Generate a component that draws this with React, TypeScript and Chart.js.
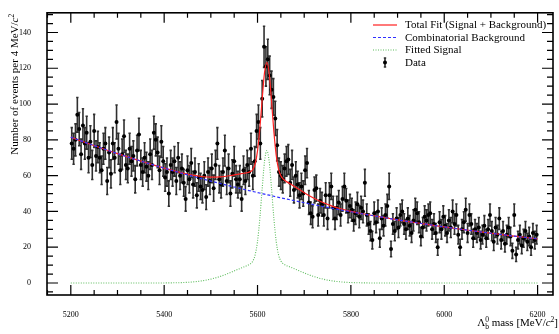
import { useEffect, useRef } from "react";
import { Chart, registerables } from "chart.js";

Chart.register(...registerables);

// Λb0 candidate mass spectrum, 4 MeV/c² bins from 5200 to 6200 MeV/c²
const BIN_LOW = 5200;
const BIN_WIDTH = 4;

const eventCounts: number[] = [
  78, 75, 80, 94, 86, 72, 88, 78, 84, 70,
  79, 66, 85, 71, 76, 70, 63, 75, 78, 57,
  73, 61, 78, 70, 90, 75, 63, 72, 82, 66,
  64, 75, 68, 71, 58, 74, 83, 66, 62, 70,
  65, 60, 72, 66, 84, 80, 73, 63, 79, 68,
  59, 62, 50, 66, 62, 68, 57, 70, 60, 64,
  56, 47, 63, 58, 67, 55, 62, 49, 59, 54,
  52, 60, 48, 62, 57, 64, 53, 66, 78, 58,
  55, 62, 74, 57, 64, 50, 61, 68, 58, 55,
  58, 47, 63, 57, 66, 62, 75, 60, 68, 85,
  90, 78, 103, 132, 121, 125, 116, 108, 104, 92,
  77, 62, 60, 58, 64, 68, 69, 56, 66, 52,
  60, 55, 49, 54, 50, 63, 67, 45, 39, 37,
  52, 53, 38, 46, 44, 38, 49, 36, 49, 54,
  42, 36, 42, 45, 38, 47, 54, 46, 40, 43,
  41, 35, 39, 44, 37, 42, 40, 56, 38, 33,
  29, 24, 39, 34, 40, 25, 36, 32, 38, 43,
  54, 19, 33, 29, 36, 31, 38, 40, 33, 30,
  36, 32, 28, 35, 41, 39, 34, 26, 31, 37,
  35, 38, 39, 30, 33, 28, 20, 34, 30, 37,
  32, 28, 35, 31, 40, 33, 38, 27, 20, 30,
  34, 41, 28, 38, 33, 25, 30, 28, 31, 24,
  27, 32, 25, 30, 38, 29, 23, 31, 27, 36,
  24, 29, 22, 27, 31, 26, 18, 38, 16, 24,
  27, 21, 25, 29, 23, 26, 20, 28, 24, 27,
];
const binCenters = eventCounts.map((_, i) => BIN_LOW + BIN_WIDTH * (i + 0.5));

// Fit curves sampled along the mass axis (denser around the peak)
const fitMass: number[] = [
  5200, 5220, 5240, 5260, 5280, 5300, 5320, 5340, 5360, 5380, 5400, 5420, 5440, 5460, 5480, 5500,
  5520, 5540, 5560, 5570, 5580, 5585, 5590, 5595, 5600, 5605, 5610, 5615, 5620, 5625, 5630, 5635,
  5640, 5645, 5650, 5655, 5660, 5670, 5680, 5700, 5720, 5740, 5760, 5780, 5800, 5820, 5840, 5860,
  5880, 5900, 5920, 5940, 5960, 5980, 6000, 6020, 6040, 6060, 6080, 6100, 6120, 6140, 6160, 6180, 6200,
];
const totalFit: number[] = [
  81.5, 79.58, 77.7, 75.87, 74.08, 72.33, 70.62, 68.95, 67.34, 65.75, 64.23, 62.78, 61.45, 60.33, 59.52, 59.14,
  59.3, 59.93, 60.86, 61.32, 61.77, 62.26, 63.46, 66.65, 73.85, 86.45, 102.85, 117.55, 123.36, 116.97, 101.67, 84.68,
  71.49, 63.7, 59.92, 58.13, 57.05, 55.42, 53.78, 50.49, 47.48, 44.95, 42.94, 41.35, 40.07, 38.98, 37.99, 37.07,
  36.18, 35.33, 34.49, 33.68, 32.89, 32.11, 31.35, 30.61, 29.89, 29.19, 28.5, 27.82, 27.17, 26.53, 25.9, 25.29, 24.69,
];
const backgroundFit: number[] = [
  81.5, 79.58, 77.7, 75.87, 74.08, 72.33, 70.62, 68.95, 67.33, 65.74, 64.19, 62.67, 61.19, 59.75, 58.34, 56.96,
  55.62, 54.3, 53.02, 52.39, 51.77, 51.46, 51.16, 50.85, 50.55, 50.25, 49.95, 49.65, 49.36, 49.07, 48.77, 48.48,
  48.19, 47.9, 47.62, 47.33, 47.05, 46.49, 45.94, 44.86, 43.8, 42.77, 41.76, 40.77, 39.81, 38.87, 37.95, 37.06,
  36.18, 35.33, 34.49, 33.68, 32.89, 32.11, 31.35, 30.61, 29.89, 29.19, 28.5, 27.82, 27.17, 26.53, 25.9, 25.29, 24.69,
];
const signalFit: number[] = [
  0, 0, 0, 0, 0, 0, 0, 0, 0.01, 0.01, 0.04, 0.11, 0.26, 0.58, 1.18, 2.18,
  3.68, 5.63, 7.84, 8.93, 10.0, 10.8, 12.3, 15.8, 23.3, 36.2, 52.9, 67.9, 74.0, 67.9, 52.9, 36.2,
  23.3, 15.8, 12.3, 10.8, 10.0, 8.93, 7.84, 5.63, 3.68, 2.18, 1.18, 0.58, 0.26, 0.11, 0.04, 0.01,
  0, 0, 0, 0, 0, 0, 0, 0, 0, 0, 0, 0, 0, 0, 0, 0, 0,
];

const xMajorTicks = [5200, 5400, 5600, 5800, 6000, 6200];
const yMajorTicks = [0, 20, 40, 60, 80, 100, 120, 140];
const legendLabels = ["Total Fit (Signal + Background)", "Combinatorial Background", "Fitted Signal", "Data"];

const SERIF = '"Liberation Serif", "DejaVu Serif", serif';
const RED = "#ff2020";
const BLUE = "#3030ff";
const GREEN = "#5cbc5c";
const BAR = "#303030";

type Part = { t: string; size: number; italic?: boolean; dy?: number; stack?: boolean };

const font = (p: Part) => `${p.italic ? "italic " : ""}${p.size}px ${SERIF}`;

function partsWidth(ctx: CanvasRenderingContext2D, parts: Part[]) {
  let w = 0;
  for (const p of parts) {
    ctx.font = font(p);
    if (!p.stack) w += ctx.measureText(p.t).width;
  }
  return w;
}

function drawParts(ctx: CanvasRenderingContext2D, parts: Part[], x: number, y: number) {
  let cx = x;
  for (const p of parts) {
    ctx.font = font(p);
    ctx.fillText(p.t, cx, y + (p.dy || 0));
    if (!p.stack) cx += ctx.measureText(p.t).width;
  }
}

// σ = √N error bars beneath the data markers
const errorBarPlugin = {
  id: "errorBars",
  beforeDatasetsDraw(chart: any) {
    const { ctx, chartArea: a, scales } = chart;
    const xs = scales.x;
    const ys = scales.y;
    ctx.save();
    ctx.beginPath();
    ctx.rect(a.left, a.top, a.right - a.left, a.bottom - a.top);
    ctx.clip();
    ctx.strokeStyle = BAR;
    ctx.lineWidth = 1.6;
    ctx.beginPath();
    eventCounts.forEach((n, i) => {
      const px = xs.getPixelForValue(binCenters[i]);
      const err = Math.sqrt(n);
      const yTop = ys.getPixelForValue(n + err);
      const yBot = ys.getPixelForValue(n - err);
      ctx.moveTo(px, yTop);
      ctx.lineTo(px, yBot);
      ctx.moveTo(px - 1.2, yTop);
      ctx.lineTo(px + 1.2, yTop);
      ctx.moveTo(px - 1.2, yBot);
      ctx.lineTo(px + 1.2, yBot);
    });
    ctx.stroke();
    ctx.restore();
  },
};

// Boxed frame with inward ticks, axis titles and the legend box
const decorationsPlugin = {
  id: "decorations",
  afterDraw(chart: any) {
    const { ctx, chartArea: a, scales } = chart;
    const xs = scales.x;
    const ys = scales.y;
    ctx.save();
    ctx.strokeStyle = "#000";
    ctx.lineWidth = 1.6;
    ctx.strokeRect(a.left, a.top, a.right - a.left, a.bottom - a.top);

    ctx.lineWidth = 1.2;
    ctx.beginPath();
    for (let v = 5150; v <= 6250; v += 50) {
      if (v <= xs.min || v >= xs.max) continue;
      const px = xs.getPixelForValue(v);
      const len = xMajorTicks.includes(v) ? 10 : 5;
      ctx.moveTo(px, a.bottom);
      ctx.lineTo(px, a.bottom - len);
      ctx.moveTo(px, a.top);
      ctx.lineTo(px, a.top + len);
    }
    for (let v = -5; v <= 150; v += 5) {
      if (v <= ys.min || v >= ys.max) continue;
      const py = ys.getPixelForValue(v);
      const len = yMajorTicks.includes(v) ? 11 : 6;
      ctx.moveTo(a.left, py);
      ctx.lineTo(a.left + len, py);
      ctx.moveTo(a.right, py);
      ctx.lineTo(a.right - len, py);
    }
    ctx.stroke();

    ctx.fillStyle = "#000";
    ctx.textBaseline = "alphabetic";

    // x-axis title, right-aligned to the end of the axis
    const xTitle: Part[] = [
      { t: "Λ", size: 11 },
      { t: "b", size: 7.5, dy: 2.5, stack: true },
      { t: "0", size: 7.5, dy: -4.5 },
      { t: " mass [MeV/", size: 11 },
      { t: "c", size: 11, italic: true },
      { t: "2", size: 7.5, dy: -4.5 },
      { t: "]", size: 11 },
    ];
    const xw = partsWidth(ctx, xTitle);
    drawParts(ctx, xTitle, 558 - xw, 326);

    // y-axis title, rotated, ending at the top of the frame
    const yTitle: Part[] = [
      { t: "Number of events per 4 MeV/", size: 11 },
      { t: "c", size: 11, italic: true },
      { t: "2", size: 7.5, dy: -4.5 },
    ];
    const yw = partsWidth(ctx, yTitle);
    ctx.save();
    ctx.translate(18, a.top + 1);
    ctx.rotate(-Math.PI / 2);
    drawParts(ctx, yTitle, -yw, 0);
    ctx.restore();

    // legend
    const rowY = [25, 37.5, 50, 62.5];
    const x0 = 373;
    const x1 = 397;
    ctx.font = `11px ${SERIF}`;
    ctx.textBaseline = "middle";
    legendLabels.forEach((label, i) => {
      ctx.fillStyle = "#000";
      ctx.fillText(label, 405, rowY[i] + 0.5);
    });
    ctx.lineWidth = 1.2;
    ctx.strokeStyle = RED;
    ctx.setLineDash([]);
    ctx.beginPath();
    ctx.moveTo(x0, rowY[0]);
    ctx.lineTo(x1, rowY[0]);
    ctx.stroke();
    ctx.strokeStyle = BLUE;
    ctx.setLineDash([3, 2]);
    ctx.beginPath();
    ctx.moveTo(x0, rowY[1]);
    ctx.lineTo(x1, rowY[1]);
    ctx.stroke();
    ctx.strokeStyle = GREEN;
    ctx.setLineDash([1, 1.5]);
    ctx.beginPath();
    ctx.moveTo(x0, rowY[2]);
    ctx.lineTo(x1, rowY[2]);
    ctx.stroke();
    ctx.setLineDash([]);
    const mx = (x0 + x1) / 2;
    ctx.strokeStyle = BAR;
    ctx.lineWidth = 1.6;
    ctx.beginPath();
    ctx.moveTo(mx, rowY[3] - 4.5);
    ctx.lineTo(mx, rowY[3] + 4.5);
    ctx.moveTo(mx - 1.2, rowY[3] - 4.5);
    ctx.lineTo(mx + 1.2, rowY[3] - 4.5);
    ctx.moveTo(mx - 1.2, rowY[3] + 4.5);
    ctx.lineTo(mx + 1.2, rowY[3] + 4.5);
    ctx.stroke();
    ctx.fillStyle = "#000";
    ctx.beginPath();
    ctx.arc(mx, rowY[3], 2, 0, Math.PI * 2);
    ctx.fill();
    ctx.restore();
  },
};

export default function App() {
  const canvasRef = useRef<HTMLCanvasElement | null>(null);

  useEffect(() => {
    document.body.style.margin = "0";
    const canvas = canvasRef.current;
    if (!canvas) return;

    const chart = new Chart(canvas, {
      type: "scatter",
      data: {
        datasets: [
          {
            label: legendLabels[3],
            data: binCenters.map((m, i) => ({ x: m, y: eventCounts[i] })),
            pointRadius: 2,
            pointBackgroundColor: "#000",
            pointBorderWidth: 0,
            showLine: false,
            order: 4,
          },
          {
            type: "line",
            label: legendLabels[0],
            data: fitMass.map((m, i) => ({ x: m, y: totalFit[i] })),
            borderColor: RED,
            borderWidth: 1.2,
            pointRadius: 0,
            cubicInterpolationMode: "monotone",
            fill: false,
            order: 3,
          },
          {
            type: "line",
            label: legendLabels[1],
            data: fitMass.map((m, i) => ({ x: m, y: backgroundFit[i] })),
            borderColor: BLUE,
            borderWidth: 1.2,
            borderDash: [3, 2],
            pointRadius: 0,
            cubicInterpolationMode: "monotone",
            fill: false,
            order: 2,
          },
          {
            type: "line",
            label: legendLabels[2],
            data: fitMass.map((m, i) => ({ x: m, y: signalFit[i] })),
            borderColor: GREEN,
            borderWidth: 1.1,
            borderDash: [1, 1.5],
            pointRadius: 0,
            cubicInterpolationMode: "monotone",
            fill: false,
            order: 1,
          },
        ] as any,
      },
      options: {
        responsive: false,
        animation: false,
        events: [],
        layout: { padding: { top: 4, right: 6, left: 0, bottom: 0 } },
        plugins: { legend: { display: false }, tooltip: { enabled: false } },
        scales: {
          x: {
            type: "linear",
            min: 5149,
            max: 6233,
            grid: { display: false },
            border: { display: false },
            ticks: {
              color: "#000",
              font: { family: SERIF, size: 8 },
              padding: 7,
              maxRotation: 0,
              autoSkip: false,
              callback: (v: any) => String(v),
            },
            afterBuildTicks: (s: any) => {
              s.ticks = xMajorTicks.map((v) => ({ value: v }));
            },
            afterFit: (s: any) => {
              s.height = 39;
            },
          },
          y: {
            type: "linear",
            min: -6.7,
            max: 151,
            grid: { display: false },
            border: { display: false },
            ticks: {
              color: "#000",
              font: { family: SERIF, size: 8 },
              padding: 8,
              autoSkip: false,
              callback: (v: any) => String(v),
            },
            afterBuildTicks: (s: any) => {
              s.ticks = yMajorTicks.map((v) => ({ value: v }));
            },
            afterFit: (s: any) => {
              s.width = 47;
            },
          },
        },
      } as any,
      plugins: [errorBarPlugin, decorationsPlugin],
    });

    return () => chart.destroy();
  }, []);

  return (
    <div style={{ width: 559, height: 334, background: "#fff" }}>
      <canvas ref={canvasRef} width={559} height={334} style={{ display: "block", width: 559, height: 334 }} />
    </div>
  );
}
